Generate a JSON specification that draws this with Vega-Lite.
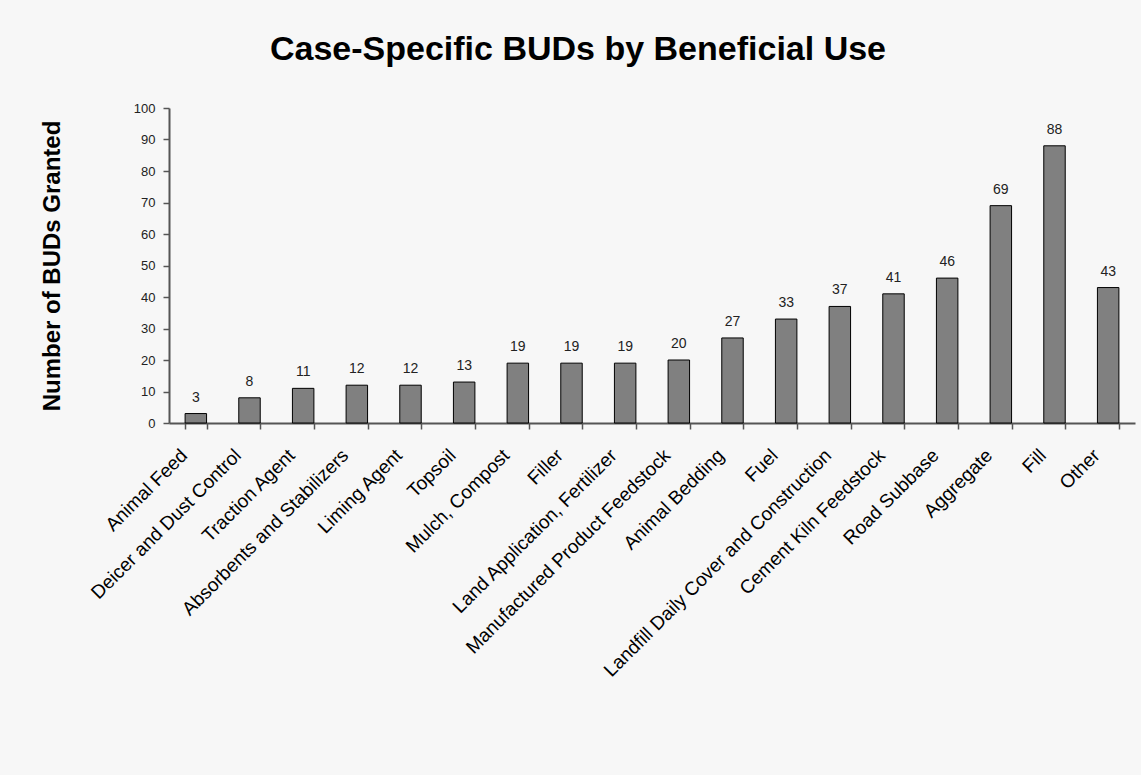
{
  "$schema": "https://vega.github.io/schema/vega-lite/v6.json",
  "autosize": {"type": "none"},
  "width": 966,
  "height": 315,
  "padding": {"left": 169, "top": 108, "right": 6, "bottom": 352},
  "background": "#f7f7f7",
  "title": {
    "text": "Case-Specific BUDs by Beneficial Use",
    "font": "Liberation Sans",
    "fontSize": 34,
    "fontWeight": "bold",
    "color": "#000000",
    "anchor": "middle",
    "dx": -74,
    "offset": 35
  },
  "config": {
    "view": {"stroke": null},
    "axis": {"grid": false}
  },
  "data": {
    "values": [
      {"use": "Animal Feed", "count": 3},
      {"use": "Deicer and Dust Control", "count": 8},
      {"use": "Traction Agent", "count": 11},
      {"use": "Absorbents and Stabilizers", "count": 12},
      {"use": "Liming Agent", "count": 12},
      {"use": "Topsoil", "count": 13},
      {"use": "Mulch, Compost", "count": 19},
      {"use": "Filler", "count": 19},
      {"use": "Land Application, Fertilizer", "count": 19},
      {"use": "Manufactured Product Feedstock", "count": 20},
      {"use": "Animal Bedding", "count": 27},
      {"use": "Fuel", "count": 33},
      {"use": "Landfill Daily Cover and Construction", "count": 37},
      {"use": "Cement Kiln Feedstock", "count": 41},
      {"use": "Road Subbase", "count": 46},
      {"use": "Aggregate", "count": 69},
      {"use": "Fill", "count": 88},
      {"use": "Other", "count": 43}
    ]
  },
  "encoding": {
    "x": {
      "field": "use",
      "type": "nominal",
      "sort": null,
      "scale": {"paddingInner": 0.6, "paddingOuter": 0.3},
      "axis": {
        "title": null,
        "labelAngle": -45,
        "labelAlign": "right",
        "labelBaseline": "middle",
        "labelFont": "Liberation Sans",
        "labelFontSize": 19,
        "labelColor": "#000000",
        "labelPadding": 23,
        "labelOffset": -12,
        "labelOverlap": false,
        "labelLimit": 0,
        "bandPosition": 0,
        "tickBand": "extent",
        "tickColor": "#555555",
        "tickSize": 6,
        "tickWidth": 1.5,
        "domainColor": "#555555",
        "domainWidth": 2
      }
    },
    "y": {
      "field": "count",
      "type": "quantitative",
      "scale": {"domain": [0, 100], "nice": false},
      "axis": {
        "title": "Number of BUDs Granted",
        "titleFont": "Liberation Sans",
        "titleFontSize": 24,
        "titleFontWeight": "bold",
        "titleColor": "#000000",
        "titleBaseline": "alphabetic",
        "titleX": -110,
        "values": [0, 10, 20, 30, 40, 50, 60, 70, 80, 90, 100],
        "labelFont": "Liberation Sans",
        "labelFontSize": 13,
        "labelColor": "#222222",
        "labelPadding": 8,
        "tickColor": "#555555",
        "tickSize": 6,
        "tickWidth": 1.5,
        "domainColor": "#555555",
        "domainWidth": 2
      }
    }
  },
  "layer": [
    {
      "mark": {"type": "bar", "color": "#808080", "stroke": "#000000", "strokeWidth": 1}
    },
    {
      "mark": {"type": "text", "baseline": "alphabetic", "dy": -12, "font": "Liberation Sans", "fontSize": 14, "color": "#222222"},
      "encoding": {"text": {"field": "count", "type": "quantitative"}}
    }
  ]
}
